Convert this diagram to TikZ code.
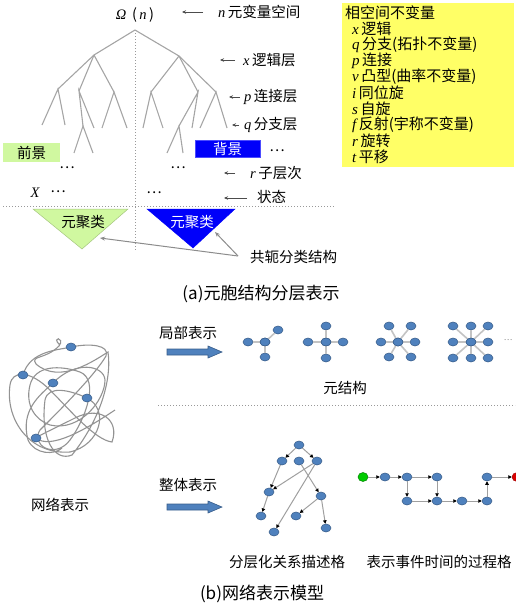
\documentclass[tikz,border=0pt]{standalone}
\usepackage{fontspec}
\setmainfont{Noto Sans CJK SC}
\newfontfamily\tms{Liberation Serif}
\usetikzlibrary{arrows.meta,shapes.geometric}
\definecolor{treegray}{RGB}{165,165,165}
\definecolor{dotblue}{RGB}{79,129,189}
\definecolor{dotedge}{RGB}{56,93,138}
\definecolor{lgreen}{RGB}{208,248,160}
\definecolor{ybox}{RGB}{255,255,102}
\definecolor{metagray}{RGB}{195,195,195}
\definecolor{bluebox}{RGB}{0,0,250}
\newcommand{\lv}[1]{{\tms\itshape #1}}
\begin{document}
\begin{tikzpicture}[x=1pt,y=-1pt,
  every node/.style={font=\fontsize{14.5}{16}\selectfont, inner sep=0pt},
  tree/.style={treegray, line width=1.1pt},
  lbl/.style={anchor=west},
  ptr/.style={-{Stealth[length=4pt,width=3.5pt]}, black!70, line width=0.6pt},
  dotline/.style={gray!80, dotted, line width=1pt},
  bdot/.style={ellipse, fill=dotblue, draw=dotedge, line width=0.5pt, minimum width=10pt, minimum height=8pt},
  medge/.style={metagray, line width=1.6pt},
  ledge/.style={gray!75, line width=1pt, -{Triangle[length=3.5pt,width=3.5pt,color=black]}},
  fatarrow/.style={fill=dotblue, draw=dotedge, line width=0.6pt},
  capt/.style={font=\fontsize{17}{19}\selectfont},
  yl/.style={anchor=west, font=\fontsize{15}{16}\selectfont},
]
\useasboundingbox (0,0) rectangle (515,608);

% ---------- (a) tree ----------
\draw[dotline] (135,30) -- (135,250);
\coordinate (R) at (135,30);
\coordinate (L) at (94,55);   \coordinate (Rr) at (179,56);
\coordinate (L1) at (58,89);  \coordinate (L2) at (79,91);  \coordinate (L3) at (114,92);
\coordinate (L1a) at (42,125); \coordinate (L1b) at (65,125);
\coordinate (L2a) at (94,128); \coordinate (L2b) at (83,126);
\coordinate (L2b1) at (74,153); \coordinate (L2b2) at (93,153);
\coordinate (L3a) at (102,128); \coordinate (L3b) at (127,128);
\coordinate (R1) at (151,92); \coordinate (R2) at (198,92); \coordinate (R3) at (216,92);
\coordinate (R1a) at (143,128); \coordinate (R1b) at (163,128);
\coordinate (R2a) at (192,128); \coordinate (R2b) at (179,126);
\coordinate (R2b1) at (167,153); \coordinate (R2b2) at (183,153);
\coordinate (R3a) at (200,128); \coordinate (R3b) at (227,128);
\draw[tree] (L1) -- (L) -- (R) -- (Rr) -- (R3);
\draw[tree] (L) -- (L2); \draw[tree] (L) -- (L3);
\draw[tree] (Rr) -- (R1); \draw[tree] (Rr) -- (R2);
\draw[tree] (L1a) -- (L1) -- (L1b);
\draw[tree] (L2a) -- (L2) -- (L2b);
\draw[tree] (L2b1) -- (L2b) -- (L2b2);
\draw[tree] (L3a) -- (L3) -- (L3b);
\draw[tree] (R1a) -- (R1) -- (R1b);
\draw[tree] (R2a) -- (R2) -- (R2b);
\draw[tree] (R2b1) -- (R2b) -- (R2b2);
\draw[tree] (R3a) -- (R3) -- (R3b);

\node (omega) at (135,15) {\lv{Ω} \,(\,\lv{n}\,)};

% right labels with pointers
\node[lbl] (lab1) at (218,12) {\lv{n}\,元变量空间};
\coordinate (p1s) at (203,12); \coordinate (p1e) at (182,12);
\draw[ptr] (p1s) -- (p1e);
\node[lbl] (lab2) at (243,60) {\lv{x}\,逻辑层};
\coordinate (p2s) at (235,60); \coordinate (p2e) at (220,60);
\draw[ptr] (p2s) -- (p2e);
\node[lbl] (lab3) at (244,97) {\lv{p}\,连接层};
\coordinate (p3s) at (240,97); \coordinate (p3e) at (229,97);
\draw[ptr] (p3s) -- (p3e);
\node[lbl] (lab4) at (244,125) {\lv{q}\,分支层};
\coordinate (p4s) at (239,125); \coordinate (p4e) at (232,125);
\draw[ptr] (p4s) -- (p4e);
\node[lbl] (lab5) at (250,173) {\lv{r}\,子层次};
\coordinate (p5s) at (235,173); \coordinate (p5e) at (224,173);
\draw[ptr] (p5s) -- (p5e);
\node[lbl] (lab6) at (257,197) {状态};
\coordinate (p6s) at (247,198); \coordinate (p6e) at (224,198);
\draw[ptr] (p6s) -- (p6e);

% foreground / background boxes
\node[fill=lgreen, minimum width=57pt, minimum height=19pt] (fg) at (31.5,152.5) {前景};
\node[fill=bluebox, draw=blue!70!white, line width=0.6pt, text=white, minimum width=65pt, minimum height=17pt] (bg) at (227.5,148.5) {背景};
\node (d0) at (277,151) {…};
\node (d1) at (67,168) {…};
\node (d2) at (178,168) {…};
\node (X) at (35,193) {\lv{X}};
\node (d3) at (58,192) {…};
\node (d4) at (154,193) {…};

\draw[dotline] (3,206) -- (335,206);

% clusters
\draw[fill=lgreen, draw=lgreen!80!black, line width=0.5pt] (33,209) -- (128,209) -- (82,249) -- cycle;
\node (c1) at (83,222) {元聚类};
\draw[fill=bluebox, draw=bluebox] (147,209) -- (235,209) -- (193,248) -- cycle;
\node[text=white] (c2) at (192,222) {元聚类};
\node[lbl] (conj) at (250,257) {共轭分类结构};
\coordinate (cj) at (238,256);
\coordinate (t1) at (100,238);
\coordinate (t2) at (215,232);
\draw[gray!90, line width=1pt, -{Stealth[length=5pt,width=4pt]}] (cj) -- (t1);
\draw[gray!90, line width=1pt, -{Stealth[length=5pt,width=4pt]}] (cj) -- (t2);

% yellow box
\node[fill=ybox, minimum width=172pt, minimum height=164pt, anchor=north west] (yb) at (342,3) {};
\node[yl] (y0) at (345,13) {相空间不变量};
\node[yl] (y1) at (352,29) {\lv{x}\,逻辑};
\node[yl] (y2) at (352,45) {\lv{q}\,分支(拓扑不变量)};
\node[yl] (y3) at (352,61) {\lv{p}\,连接};
\node[yl] (y4) at (352,77) {\lv{v}\,凸型(曲率不变量)};
\node[yl] (y5) at (352,93) {\lv{i}\,同位旋};
\node[yl] (y6) at (352,109) {\lv{s}\,自旋};
\node[yl] (y7) at (352,125) {\lv{f}\,反射(宇称不变量)};
\node[yl] (y8) at (352,141) {\lv{r}\,旋转};
\node[yl] (y9) at (352,157) {\lv{t}\,平移};

\node[capt] (capa) at (261,294) {(a)元胞结构分层表示};

% ---------- (b) ----------
% tangled network
\draw[gray!85, line width=1.1pt]
  (60,345) .. controls (50,336) and (66,337) .. (59,346)
  .. controls (45,360) and (30,355) .. (36,364)
  .. controls (60,385) and (95,360) .. (108,352)
  .. controls (112,380) and (100,420) .. (72,455)
  .. controls (55,462) and (40,440) .. (45,400)
  .. controls (48,385) and (70,390) .. (87,398)
  .. controls (110,410) and (100,445) .. (70,452)
  .. controls (30,455) and (5,420) .. (10,385)
  .. controls (12,370) and (30,370) .. (50,390)
  .. controls (70,410) and (95,440) .. (112,442)
  .. controls (120,420) and (100,405) .. (75,418)
  .. controls (55,428) and (30,440) .. (36,438)
  .. controls (50,450) and (85,430) .. (115,410);
\draw[gray!85, line width=1.1pt]
  (23,375) .. controls (30,350) and (60,350) .. (71,347)
  .. controls (90,343) and (110,345) .. (106,356)
  .. controls (95,375) and (60,410) .. (40,430)
  .. controls (30,445) and (55,460) .. (70,440)
  .. controls (85,420) and (100,380) .. (80,372)
  .. controls (60,365) and (35,365) .. (30,385)
  .. controls (25,405) and (35,420) .. (50,425)
  .. controls (80,432) and (105,400) .. (105,380)
  .. controls (104,365) and (75,360) .. (53,383)
  .. controls (40,395) and (20,410) .. (28,440)
  .. controls (35,455) and (55,455) .. (62,448);
\node[bdot] (n1) at (71,347) {};
\node[bdot] (n2) at (23,375) {};
\node[bdot] (n3) at (53,383) {};
\node[bdot] (n4) at (87,398) {};
\node[bdot] (n5) at (36,438) {};
\node (netlbl) at (60,505) {网络表示};

% local representation arrow
\node (loc) at (188,333) {局部表示};
\draw[fatarrow] (167,349) -- (208,349) -- (208,346) -- (222,352) -- (208,358) -- (208,355) -- (167,355) -- cycle;

% meta structures
\node[bdot] (m1c) at (265,342) {};
\node[bdot] (m1a) at (248,342) {};
\node[bdot] (m1b) at (278,330) {};
\node[bdot] (m1d) at (265,357) {};
\draw[medge] (m1a) -- (m1c); \draw[medge] (m1b) -- (m1c); \draw[medge] (m1d) -- (m1c);

\node[bdot] (m2c) at (326,342) {};
\node[bdot] (m2a) at (308,342) {};
\node[bdot] (m2b) at (343,342) {};
\node[bdot] (m2d) at (326,326) {};
\node[bdot] (m2e) at (326,358) {};
\draw[medge] (m2a) -- (m2c); \draw[medge] (m2b) -- (m2c);
\draw[medge] (m2d) -- (m2c); \draw[medge] (m2e) -- (m2c);

\node[bdot] (m3c) at (398,342) {};
\node[bdot] (m3a) at (381,342) {};
\node[bdot] (m3b) at (415,342) {};
\node[bdot] (m3d) at (389,326) {};
\node[bdot] (m3e) at (411,326) {};
\node[bdot] (m3f) at (389,357) {};
\node[bdot] (m3g) at (411,357) {};
\foreach \n in {m3a,m3b,m3d,m3e,m3f,m3g} \draw[medge] (\n) -- (m3c);

\node[bdot] (m4c) at (471,342) {};
\node[bdot] (m4a) at (453,342) {};
\node[bdot] (m4b) at (488,342) {};
\node[bdot] (m4d) at (453,326) {};
\node[bdot] (m4e) at (471,326) {};
\node[bdot] (m4f) at (488,326) {};
\node[bdot] (m4g) at (453,358) {};
\node[bdot] (m4h) at (471,358) {};
\node[bdot] (m4i) at (488,358) {};
\foreach \n in {m4a,m4b,m4d,m4e,m4f,m4g,m4h,m4i} \draw[medge] (\n) -- (m4c);
\foreach \n in {m1c,m2c,m3c,m4c} \node[bdot] at (\n) {};
\node[text=gray, font=\fontsize{8}{8}\selectfont] (mdots) at (508,340) {…};

\node (meta) at (345,388) {元结构};
\draw[dotline] (158,405) -- (515,405);

% whole representation arrow
\node (whole) at (188,485) {整体表示};
\draw[fatarrow] (167,504) -- (208,504) -- (208,501) -- (222,507) -- (208,513) -- (208,510) -- (167,510) -- cycle;

% hierarchical lattice
\node[bdot] (hA) at (299,445) {};
\node[bdot] (hB) at (282,461) {};
\node[bdot] (hC) at (299,461) {};
\node[bdot] (hD) at (317,461) {};
\node[bdot] (hE) at (269,492) {};
\node[bdot] (hF) at (321,496) {};
\node[bdot] (hG) at (261,516) {};
\node[bdot] (hH) at (296,516) {};
\node[bdot] (hI) at (326,528) {};
\node[bdot] (hJ) at (274,532) {};
\draw[ledge] (hA) -- (hB);
\draw[ledge] (hA) -- (hD);
\draw[ledge] (hB) -- (hE);
\draw[ledge] (hD) -- (hE);
\draw[ledge] (hC) -- (hF);
\draw[ledge] (hD) -- (hJ);
\draw[ledge] (hE) -- (hG);
\draw[ledge] (hF) -- (hH);
\draw[ledge] (hF) -- (hI);
\node (hlbl) at (287,562) {分层化关系描述格};

% process lattice
\node[ellipse, fill=green!80!black, draw=green!50!black, line width=0.5pt, minimum width=10pt, minimum height=9pt] (q0) at (363,477) {};
\node[bdot] (q1) at (385,477) {};
\node[bdot] (q2) at (407,477) {};
\node[bdot] (q3) at (437,477) {};
\node[bdot] (q4) at (407,501) {};
\node[bdot] (q5) at (437,501) {};
\node[bdot] (q6) at (462,501) {};
\node[bdot] (q7) at (487,501) {};
\node[bdot] (q8) at (487,477) {};
\node[ellipse, fill=red!85!black, draw=red!60!black, minimum width=10pt, minimum height=9pt] (q9) at (517,477) {};
\draw[ledge] (q0) -- (q1);
\draw[ledge] (q1) -- (q2);
\draw[ledge] (q2) -- (q3);
\draw[ledge] (q2) -- (q4);
\draw[ledge] (q3) -- (q5);
\draw[ledge] (q4) -- (q5);
\draw[ledge] (q5) -- (q6);
\draw[ledge] (q6) -- (q7);
\draw[ledge] (q7) -- (q8);
\draw[ledge] (q8) -- (q9);
\node (plbl) at (439,562) {表示事件时间的过程格};

\node[capt] (capb) at (262,594) {(b)网络表示模型};
\end{tikzpicture}
\end{document}
